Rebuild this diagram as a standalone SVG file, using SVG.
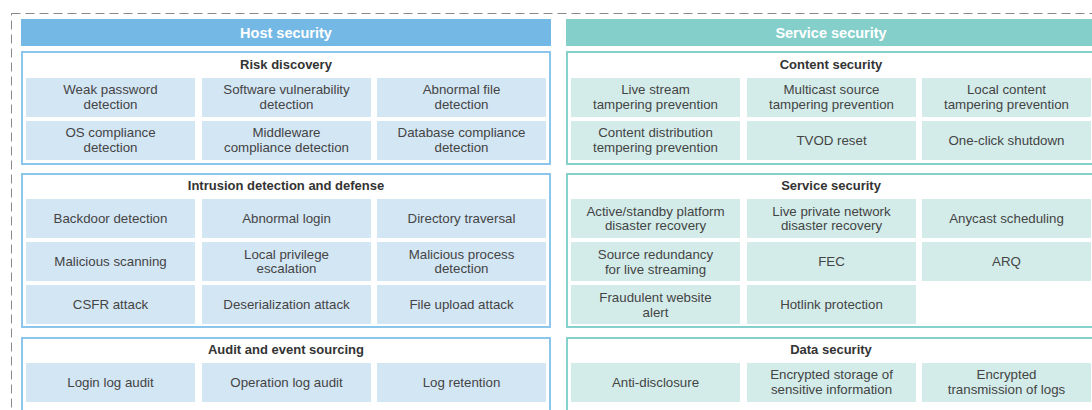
<svg xmlns="http://www.w3.org/2000/svg" width="1092" height="410" viewBox="0 0 1092 410">
<style>
.frame{fill:none;stroke:#8a8a8a;stroke-width:1;stroke-dasharray:9 5}
.hh{fill:#74b8e5}
.sh{fill:#85cfcb}
.hp{fill:#fff;stroke:#8dc6ec;stroke-width:2}
.sp{fill:#fff;stroke:#86d1cc;stroke-width:2}
.hc{fill:#d3e6f4}
.sc{fill:#d3ecea}
.ht{font-family:"Liberation Sans",Arial,sans-serif;font-weight:bold;font-size:14.5px;fill:#fff;text-anchor:middle}
.pt{font-family:"Liberation Sans",Arial,sans-serif;font-weight:bold;font-size:13px;fill:#333;text-anchor:middle}
.ct{font-family:"Liberation Sans",Arial,sans-serif;font-size:13.3px;fill:#444;text-anchor:middle}
</style>
<rect class="frame" x="11.5" y="13.5" width="1100" height="420"/>

<g id="host-header"><rect class="hh" x="21" y="19" width="530" height="27"/><text class="ht" x="286" y="37.5">Host security</text></g>
<g id="service-header"><rect class="sh" x="566" y="19" width="530" height="27"/><text class="ht" x="831" y="37.5">Service security</text></g>

<g id="risk-discovery">
<rect class="hp" x="22" y="52" width="528" height="112"/>
<text class="pt" x="286" y="68.5">Risk discovery</text>
<rect class="hc" x="26" y="78" width="169" height="39"/><text class="ct" x="110.5" y="94">Weak password<tspan x="110.5" dy="14.5">detection</tspan></text>
<rect class="hc" x="202" y="78" width="169" height="39"/><text class="ct" x="286.5" y="94">Software vulnerability<tspan x="286.5" dy="14.5">detection</tspan></text>
<rect class="hc" x="377" y="78" width="169" height="39"/><text class="ct" x="461.5" y="94">Abnormal file<tspan x="461.5" dy="14.5">detection</tspan></text>
<rect class="hc" x="26" y="121" width="169" height="39"/><text class="ct" x="110.5" y="137">OS compliance<tspan x="110.5" dy="14.5">detection</tspan></text>
<rect class="hc" x="202" y="121" width="169" height="39"/><text class="ct" x="286.5" y="137">Middleware<tspan x="286.5" dy="14.5">compliance detection</tspan></text>
<rect class="hc" x="377" y="121" width="169" height="39"/><text class="ct" x="461.5" y="137">Database compliance<tspan x="461.5" dy="14.5">detection</tspan></text>
</g>

<g id="intrusion-detection">
<rect class="hp" x="22" y="174" width="528" height="153"/>
<text class="pt" x="286" y="189.5">Intrusion detection and defense</text>
<rect class="hc" x="26" y="199" width="169" height="39"/><text class="ct" x="110.5" y="223">Backdoor detection</text>
<rect class="hc" x="202" y="199" width="169" height="39"/><text class="ct" x="286.5" y="223">Abnormal login</text>
<rect class="hc" x="377" y="199" width="169" height="39"/><text class="ct" x="461.5" y="223">Directory traversal</text>
<rect class="hc" x="26" y="242" width="169" height="39"/><text class="ct" x="110.5" y="266">Malicious scanning</text>
<rect class="hc" x="202" y="242" width="169" height="39"/><text class="ct" x="286.5" y="259">Local privilege<tspan x="286.5" dy="13.5">escalation</tspan></text>
<rect class="hc" x="377" y="242" width="169" height="39"/><text class="ct" x="461.5" y="259">Malicious process<tspan x="461.5" dy="13.5">detection</tspan></text>
<rect class="hc" x="26" y="285" width="169" height="39"/><text class="ct" x="110.5" y="309">CSFR attack</text>
<rect class="hc" x="202" y="285" width="169" height="39"/><text class="ct" x="286.5" y="309">Deserialization attack</text>
<rect class="hc" x="377" y="285" width="169" height="39"/><text class="ct" x="461.5" y="309">File upload attack</text>
</g>

<g id="audit-event-sourcing">
<rect class="hp" x="22" y="338" width="528" height="100"/>
<text class="pt" x="286" y="353.5">Audit and event sourcing</text>
<rect class="hc" x="26" y="363" width="169" height="39"/><text class="ct" x="110.5" y="387">Login log audit</text>
<rect class="hc" x="202" y="363" width="169" height="39"/><text class="ct" x="286.5" y="387">Operation log audit</text>
<rect class="hc" x="377" y="363" width="169" height="39"/><text class="ct" x="461.5" y="387">Log retention</text>
</g>

<g id="content-security">
<rect class="sp" x="567" y="52" width="528" height="112"/>
<text class="pt" x="831" y="68.5">Content security</text>
<rect class="sc" x="571" y="78" width="169" height="39"/><text class="ct" x="655.5" y="94">Live stream<tspan x="655.5" dy="14.5">tampering prevention</tspan></text>
<rect class="sc" x="747" y="78" width="169" height="39"/><text class="ct" x="831.5" y="94">Multicast source<tspan x="831.5" dy="14.5">tampering prevention</tspan></text>
<rect class="sc" x="922" y="78" width="169" height="39"/><text class="ct" x="1006.5" y="94">Local content<tspan x="1006.5" dy="14.5">tampering prevention</tspan></text>
<rect class="sc" x="571" y="121" width="169" height="39"/><text class="ct" x="655.5" y="137">Content distribution<tspan x="655.5" dy="14.5">tempering prevention</tspan></text>
<rect class="sc" x="747" y="121" width="169" height="39"/><text class="ct" x="831.5" y="145">TVOD reset</text>
<rect class="sc" x="922" y="121" width="169" height="39"/><text class="ct" x="1006.5" y="145">One-click shutdown</text>
</g>

<g id="service-security">
<rect class="sp" x="567" y="174" width="528" height="153"/>
<text class="pt" x="831" y="189.5">Service security</text>
<rect class="sc" x="571" y="199" width="169" height="39"/><text class="ct" x="655.5" y="216">Active/standby platform<tspan x="655.5" dy="14">disaster recovery</tspan></text>
<rect class="sc" x="747" y="199" width="169" height="39"/><text class="ct" x="831.5" y="216">Live private network<tspan x="831.5" dy="14">disaster recovery</tspan></text>
<rect class="sc" x="922" y="199" width="169" height="39"/><text class="ct" x="1006.5" y="223">Anycast scheduling</text>
<rect class="sc" x="571" y="242" width="169" height="39"/><text class="ct" x="655.5" y="259">Source redundancy<tspan x="655.5" dy="14.5">for live streaming</tspan></text>
<rect class="sc" x="747" y="242" width="169" height="39"/><text class="ct" x="831.5" y="266">FEC</text>
<rect class="sc" x="922" y="242" width="169" height="39"/><text class="ct" x="1006.5" y="266">ARQ</text>
<rect class="sc" x="571" y="285" width="169" height="39"/><text class="ct" x="655.5" y="302">Fraudulent website<tspan x="655.5" dy="14.5">alert</tspan></text>
<rect class="sc" x="747" y="285" width="169" height="39"/><text class="ct" x="831.5" y="309">Hotlink protection</text>
</g>

<g id="data-security">
<rect class="sp" x="567" y="338" width="528" height="100"/>
<text class="pt" x="831" y="353.5">Data security</text>
<rect class="sc" x="571" y="363" width="169" height="39"/><text class="ct" x="655.5" y="387">Anti-disclosure</text>
<rect class="sc" x="747" y="363" width="169" height="39"/><text class="ct" x="831.5" y="379">Encrypted storage of<tspan x="831.5" dy="14.5">sensitive information</tspan></text>
<rect class="sc" x="922" y="363" width="169" height="39"/><text class="ct" x="1006.5" y="379">Encrypted<tspan x="1006.5" dy="14.5">transmission of logs</tspan></text>
</g>

<g id="connectors"></g>
</svg>
